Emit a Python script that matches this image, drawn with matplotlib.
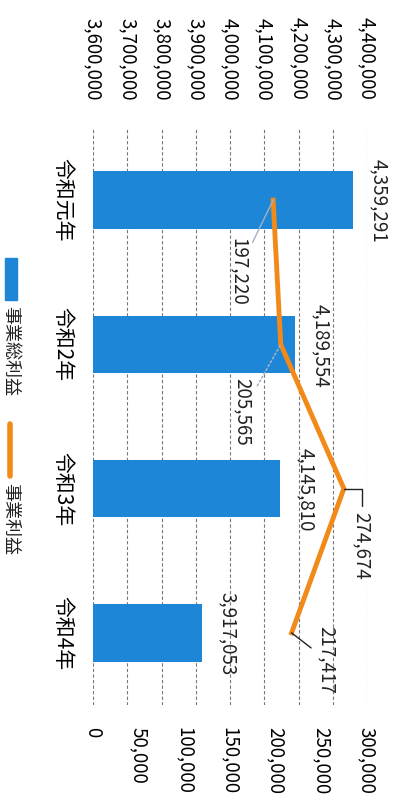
import matplotlib
matplotlib.use("Agg")
import matplotlib.pyplot as plt
from matplotlib.lines import Line2D
from matplotlib.patches import Rectangle

plt.rcParams['font.family'] = ['Noto Sans CJK JP', 'DejaVu Sans']

# ================================
# data
# ================================
years = ["令和元年", "令和2年", "令和3年", "令和4年"]
gross_profit = [4359291, 4189554, 4145810, 3917053]    # 事業総利益 (left / top scale)
operating_profit = [197220, 205565, 274674, 217417]    # 事業利益 (right / bottom scale)

gross_ticks = [3600000, 3700000, 3800000, 3900000, 4000000,
               4100000, 4200000, 4300000, 4400000]
profit_ticks = [0, 50000, 100000, 150000, 200000, 250000, 300000]

BLUE = "#1E86D6"
ORANGE = "#F28A1A"
W, H = 393, 798

fig = plt.figure(figsize=(W / 100, H / 100), dpi=100)
fig.patch.set_facecolor("white")

# the chart is laid out turned a quarter turn: values run left -> right,
# categories top -> bottom, every text reads downwards
ax = fig.add_axes([93 / W, 1 - 705 / H, 274 / W, 577 / H])
ax2 = ax.twiny()
ypos = list(range(len(years)))

ax.barh(ypos, gross_profit, height=0.4, color=BLUE, zorder=2)
ax.set_xlim(gross_ticks[0], gross_ticks[-1])
ax.set_ylim(len(years) - 0.5, -0.5)

ax.set_xticks(gross_ticks)
ax.set_xticklabels([f"{v:,}" for v in gross_ticks], rotation=-90, fontsize=13.5)
ax.xaxis.set_ticks_position("top")
ax.xaxis.set_label_position("top")
ax.tick_params(axis="x", length=0, pad=20, labeltop=True, labelbottom=False)

ax.set_yticks(ypos)
ax.set_yticklabels(years, rotation=-90, fontsize=15, va="center")
ax.tick_params(axis="y", length=0, pad=14)

ax.grid(axis="x", color="#777777", linestyle=(0, (3, 2)), linewidth=0.8, zorder=0)
ax.set_axisbelow(True)
for s in ax.spines.values():
    s.set_visible(False)

# bar value labels (outside end)
for yv, v in zip(ypos, gross_profit):
    ax.annotate(f"{v:,}", xy=(v, yv), xytext=(26, -1), textcoords="offset pixels",
                rotation=-90, ha="center", va="center", fontsize=13.5, color="#222222")

# ================================
# secondary scale + line
# ================================
ax2.set_xlim(profit_ticks[0], profit_ticks[-1])
ax2.set_ylim(ax.get_ylim())
ax2.set_xticks(profit_ticks)
ax2.set_xticklabels([f"{v:,}" for v in profit_ticks], rotation=-90, fontsize=13.5)
ax2.xaxis.set_ticks_position("bottom")
ax2.xaxis.set_label_position("bottom")
ax2.tick_params(axis="x", length=0, pad=16, labelbottom=True, labeltop=False)
for s in ax2.spines.values():
    s.set_visible(False)

ax2.plot(operating_profit, ypos, color=ORANGE, linewidth=3.5,
         solid_joinstyle="miter", zorder=3)

# label offsets (pixels) and leader styles for the line values
label_offsets = [(-35, -72), (-38, -67), (18, -57), (35, -27)]
leader_styles = [
    dict(arrowstyle="-", color="#9FB3C8", lw=1.0, shrinkA=2, shrinkB=0),
    dict(arrowstyle="-", color="#9FB3C8", lw=1.2, linestyle=":", shrinkA=2, shrinkB=0),
    dict(arrowstyle="-", color="#222222", lw=1.0, shrinkA=2, shrinkB=0,
         connectionstyle="angle,angleA=90,angleB=0,rad=0"),
    dict(arrowstyle="-", color="#222222", lw=1.0, shrinkA=2, shrinkB=0),
]
for yv, v, off, st in zip(ypos, operating_profit, label_offsets, leader_styles):
    ax2.annotate(f"{v:,}", xy=(v, yv), xytext=off, textcoords="offset pixels",
                 rotation=-90, ha="center", va="center", fontsize=13.5,
                 color="#222222", arrowprops=st, zorder=4)

# ================================
# legend (left edge, reading downwards)
# ================================
fig.patches.append(Rectangle((5 / W, 1 - 300 / H), 12 / W, 42 / H,
                             transform=fig.transFigure, color=BLUE))
fig.text(10 / W, 1 - 351 / H, "事業総利益", rotation=-90, ha="center", va="center",
         fontsize=13, color="#222222")
fig.lines.append(Line2D([10 / W, 10 / W], [1 - 424 / H, 1 - 476 / H],
                        transform=fig.transFigure, color=ORANGE, linewidth=4,
                        solid_capstyle="round"))
fig.text(10 / W, 1 - 519 / H, "事業利益", rotation=-90, ha="center", va="center",
         fontsize=13, color="#222222")

plt.savefig("out.png", dpi=100, facecolor="white")
plt.close()
